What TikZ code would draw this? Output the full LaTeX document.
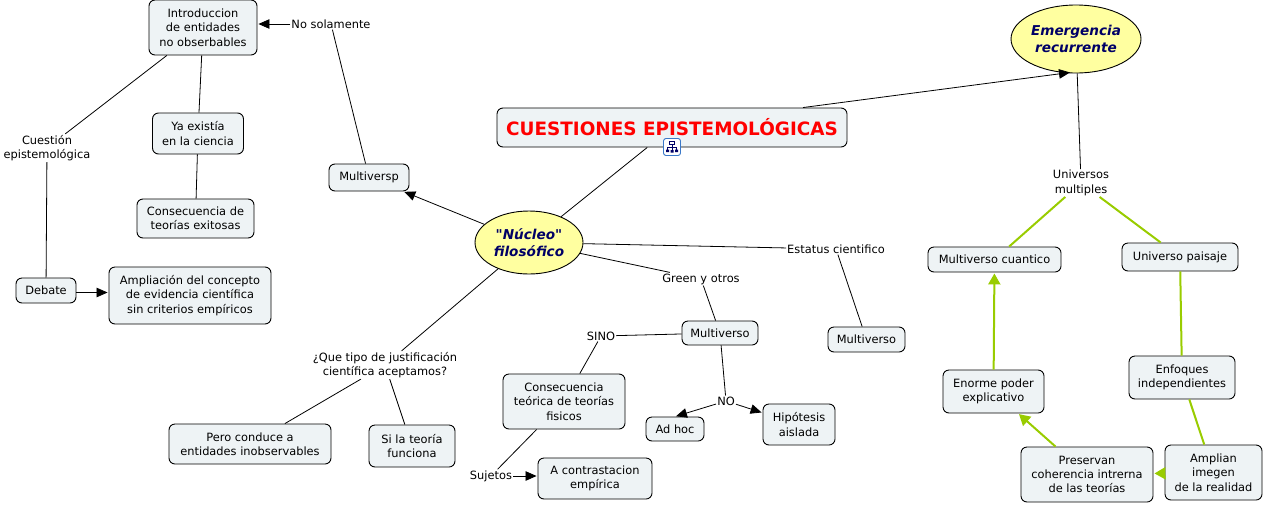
\documentclass[tikz,border=0pt]{standalone}
\usepackage{fontspec}
\setmainfont{DejaVu Sans}
\newfontfamily\straightquotes{DejaVu Sans}
\usetikzlibrary{arrows.meta, shapes.geometric}
\definecolor{boxfill}{HTML}{EEF3F5}
\definecolor{ideafill}{HTML}{FFFFA0}
\definecolor{ideatext}{HTML}{000066}
\definecolor{linkgreen}{HTML}{99CC00}
\definecolor{iconblue}{HTML}{3A78C8}
\tikzset{
    concept/.style={draw, fill=boxfill, rounded corners=6pt, line width=0.9pt, inner sep=0pt, align=center, font=\fontsize{11.4}{14.4}\selectfont},
    idea/.style={draw, fill=ideafill, ellipse, line width=0.9pt, inner sep=0pt, align=center, text=ideatext, font=\fontsize{13.6}{17}\selectfont\bfseries\itshape},
    phrase/.style={inner sep=1pt, align=center, font=\fontsize{11.4}{14.4}\selectfont},
    link/.style={line width=0.8pt},
    linkto/.style={link, -{Triangle[length=11pt,width=9.5pt]}, shorten >=1pt},
    greenlink/.style={draw=linkgreen, line width=2pt},
    greento/.style={greenlink, -{Triangle[length=11pt,width=12pt]}, shorten >=1pt}
}
\begin{document}
\begin{tikzpicture}[x=1pt, y=-1pt]

    \useasboundingbox (0,0) rectangle (1265,504);

    % ---------- concept boxes ----------
    \node[concept, minimum width=108pt, minimum height=55pt] (intro) at (203,27.5) {Introduccion\\de entidades\\no obserbables};
    \node[concept, minimum width=91pt, minimum height=41pt] (yaexistia) at (198,133.5) {Ya existía\\en la ciencia};
    \node[concept, minimum width=117pt, minimum height=39pt] (exitosas) at (195.5,218.5) {Consecuencia de\\teorías exitosas};
    \node[concept, minimum width=60pt, minimum height=25pt] (debate) at (46,290.5) {Debate};
    \node[concept, minimum width=162pt, minimum height=57pt] (ampliacion) at (190,295.5) {Ampliación del concepto\\de evidencia científica\\sin criterios empíricos};
    \node[concept, minimum width=80pt, minimum height=27pt] (multiversp) at (369,177.5) {Multiversp};
    \node[concept, minimum width=76pt, minimum height=24pt] (multiverso) at (720,333) {Multiverso};
    \node[concept, minimum width=77pt, minimum height=25pt] (multiversob) at (866.5,339.5) {Multiverso};
    \node[concept, minimum width=122pt, minimum height=55pt] (teorica) at (564,401.5) {Consecuencia\\teórica de teorías\\fisicos};
    \node[concept, minimum width=58pt, minimum height=24pt] (adhoc) at (675,429) {Ad hoc};
    \node[concept, minimum width=72pt, minimum height=41pt] (hipotesis) at (799,424.5) {Hipótesis\\aislada};
    \node[concept, minimum width=114pt, minimum height=41pt] (contrasta) at (595,478.5) {A contrastacion\\empírica};
    \node[concept, minimum width=162pt, minimum height=40pt] (inobserv) at (250,444) {Pero conduce a\\entidades inobservables};
    \node[concept, minimum width=86pt, minimum height=42pt] (funciona) at (412,446) {Si la teoría\\funciona};
    \node[concept, minimum width=133pt, minimum height=25pt] (cuantico) at (994.5,259.5) {Multiverso cuantico};
    \node[concept, minimum width=116pt, minimum height=28pt] (paisaje) at (1180,257) {Universo paisaje};
    \node[concept, minimum width=101pt, minimum height=43pt] (enorme) at (993.5,391.5) {Enorme poder\\explicativo};
    \node[concept, minimum width=106pt, minimum height=43pt] (enfoques) at (1182,377.5) {Enfoques\\independientes};
    \node[concept, minimum width=132pt, minimum height=55pt] (preservan) at (1087,474.5) {Preservan\\coherencia intrerna\\de las teorías};
    \node[concept, minimum width=97pt, minimum height=55pt] (amplian) at (1213.5,472.5) {Amplian\\imegen\\de la realidad};

    % ---------- ellipses and title ----------
    \node[idea, minimum width=108pt, minimum height=63pt] (nucleo) at (529,242.5) {\straightquotes "Núcleo"\\filosófico};
    \node[idea, minimum width=130pt, minimum height=68pt] (emergencia) at (1076,39) {Emergencia\\recurrente};
    \node[concept, minimum width=350pt, minimum height=39pt, text=red, font=\fontsize{18.4}{20}\selectfont\bfseries] (titulo) at (672,127.5) {CUESTIONES EPISTEMOLÓGICAS};

    % ---------- linking phrases ----------
    \node[phrase] (nosolamente) at (331,24) {No solamente};
    \node[phrase] (cuestion) at (47,148) {Cuestión\\epistemológica};
    \node[phrase] (tipo) at (385,365) {¿Que tipo de justificación\\científica aceptamos?};
    \node[phrase] (green) at (701,279) {Green y otros};
    \node[phrase] (estatus) at (836,249) {Estatus cientifico};
    \node[phrase] (sino) at (601,336) {SINO};
    \node[phrase] (no) at (726,401) {NO};
    \node[phrase] (sujetos) at (491,476) {Sujetos};
    \node[phrase] (universos) at (1081,183) {Universos\\multiples};

    % ---------- plain links ----------
    \foreach \a/\b in {
        intro/cuestion, cuestion/debate, intro/yaexistia, yaexistia/exitosas,
        multiversp/nosolamente, titulo/nucleo, nucleo/estatus, estatus/multiversob,
        nucleo/green, green/multiverso, multiverso/sino, sino/teorica,
        multiverso/no, teorica/sujetos, nucleo/tipo, tipo/inobserv, tipo/funciona,
        emergencia/universos%
    }{
        \draw[link] (\a) -- (\b);
    }

    % ---------- links with arrow ----------
    \foreach \a/\b in {
        nucleo/multiversp, no/hipotesis, no/adhoc.north%
    }{
        \draw[linkto] (\a) -- (\b);
    }
    \draw[linkto] (nosolamente) -- (intro.east |- nosolamente);
    \draw[linkto] (sujetos) -- (contrasta.west |- sujetos);
    \draw[linkto] ([yshift=-2pt]debate.east) -- ([yshift=3pt]ampliacion.west);
    \draw[linkto, shorten >=0pt] ([xshift=131pt]titulo.north) -- ([xshift=-6pt,yshift=1pt]emergencia.south);

    % ---------- green links ----------
    \foreach \a/\b in {
        universos/cuantico, universos/paisaje, paisaje/enfoques, enfoques/amplian%
    }{
        \draw[greenlink] (\a) -- (\b);
    }
    \foreach \a/\b in {
        amplian/preservan, preservan/enorme, enorme/cuantico%
    }{
        \draw[greento] (\a) -- (\b);
    }

    % ---------- submap icon ----------
    \node[draw=iconblue, fill=white, rounded corners=2.5pt, line width=0.9pt, minimum size=17pt, inner sep=0pt] (icono) at (672,147) {};
    \draw[ideatext, line width=0.7pt] (669.5,141.5) rectangle (674.5,144)
        (672,144) -- (672,150) (667.5,147) -- (676.5,147) (667.5,147) -- (667.5,149.5) (676.5,147) -- (676.5,149.5);
    \fill[ideatext] (666,149.5) rectangle (669,152) (670.5,150) rectangle (673.5,152.5) (675,149.5) rectangle (678,152);

\end{tikzpicture}
\end{document}
